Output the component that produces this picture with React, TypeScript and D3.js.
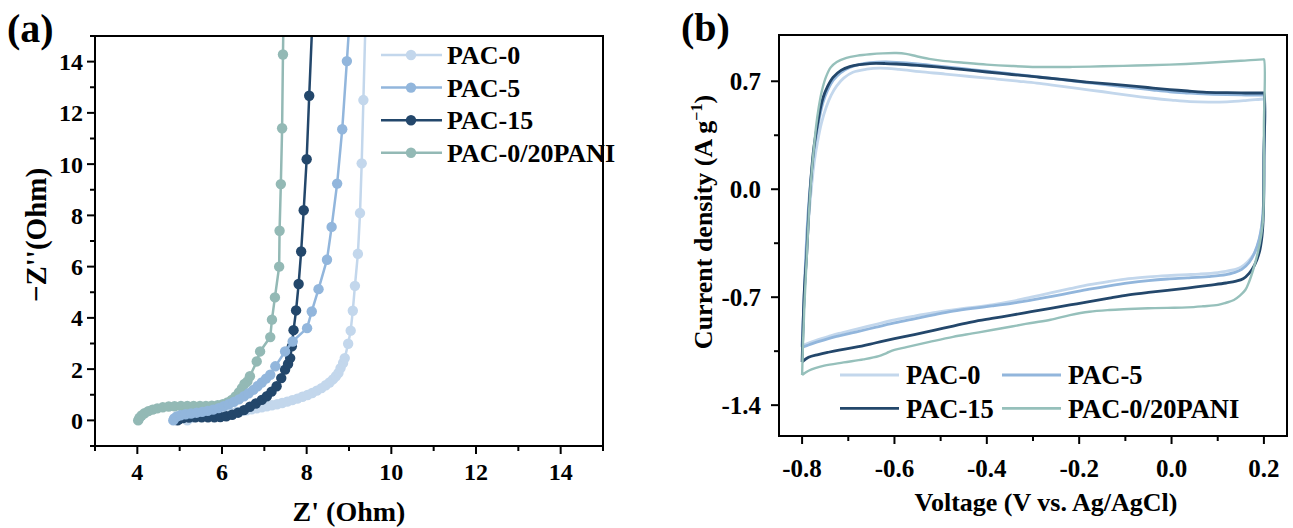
import React from "react";
import * as d3 from "d3";

// ---------- Panel (a): Nyquist plots, [Z', -Z''] in Ohm ----------
const nyqPAC0: [number, number][] = [
  [5.18, 0.0], [5.2, 0.05], [5.27, 0.1], [5.38, 0.13], [5.5, 0.15], [5.62, 0.17], [5.74, 0.19],
  [5.86, 0.21], [5.98, 0.24], [6.1, 0.27], [6.22, 0.3], [6.34, 0.33], [6.46, 0.36], [6.58, 0.39],
  [6.7, 0.43], [6.82, 0.47], [6.94, 0.51], [7.06, 0.55], [7.18, 0.59], [7.3, 0.63], [7.42, 0.68],
  [7.54, 0.73], [7.66, 0.79], [7.78, 0.85], [7.9, 0.92], [8.02, 0.99], [8.13, 1.07], [8.24, 1.16],
  [8.35, 1.26], [8.45, 1.37], [8.54, 1.48], [8.62, 1.6], [8.69, 1.72], [8.75, 1.85], [8.8, 2.04],
  [8.86, 2.24], [8.9, 2.43], [8.98, 2.99], [9.04, 3.5], [9.09, 4.28], [9.14, 5.25], [9.21, 6.5],
  [9.26, 8.09], [9.3, 10.03], [9.34, 12.5], [9.39, 15.6],
];
const nyqPAC5: [number, number][] = [
  [4.85, 0.0], [4.87, 0.08], [4.93, 0.15], [5.02, 0.2], [5.14, 0.24], [5.27, 0.27], [5.4, 0.3],
  [5.53, 0.33], [5.66, 0.37], [5.79, 0.42], [5.92, 0.48], [6.04, 0.55], [6.16, 0.63], [6.28, 0.72],
  [6.4, 0.82], [6.52, 0.94], [6.63, 1.06], [6.74, 1.19], [6.84, 1.33], [6.94, 1.48], [7.04, 1.63],
  [7.14, 1.78], [7.26, 2.11], [7.49, 2.69], [7.67, 3.08], [8.01, 3.6], [8.12, 4.25], [8.28, 5.12],
  [8.48, 6.27], [8.59, 7.55], [8.72, 9.24], [8.84, 11.36], [8.95, 14.02], [9.02, 15.8],
];
const nyqPAC15: [number, number][] = [
  [4.95, 0.0], [4.99, 0.05], [5.08, 0.09], [5.22, 0.11], [5.37, 0.12], [5.52, 0.12], [5.67, 0.12],
  [5.82, 0.12], [5.96, 0.13], [6.1, 0.16], [6.24, 0.22], [6.38, 0.3], [6.52, 0.4], [6.66, 0.53],
  [6.8, 0.66], [6.94, 0.8], [7.06, 0.94], [7.17, 1.12], [7.29, 1.33], [7.4, 1.65], [7.49, 1.98],
  [7.56, 2.2], [7.61, 2.43], [7.65, 2.89], [7.69, 3.52], [7.75, 4.29], [7.81, 5.32], [7.87, 6.59],
  [7.93, 8.2], [8.0, 10.19], [8.06, 12.67], [8.14, 15.8],
];
const nyqPANI: [number, number][] = [
  [4.02, 0.0], [4.05, 0.1], [4.1, 0.19], [4.17, 0.28], [4.26, 0.36], [4.36, 0.42], [4.47, 0.47],
  [4.6, 0.51], [4.74, 0.54], [4.88, 0.55], [5.03, 0.56], [5.18, 0.56], [5.33, 0.56], [5.48, 0.56],
  [5.62, 0.56], [5.76, 0.57], [5.9, 0.59], [6.02, 0.63], [6.13, 0.7], [6.23, 0.8], [6.32, 0.93],
  [6.4, 1.09], [6.47, 1.26], [6.53, 1.42], [6.6, 1.52], [6.66, 1.72], [6.82, 2.3], [6.9, 2.69],
  [7.14, 3.25], [7.18, 3.93], [7.25, 4.8], [7.35, 6.0], [7.36, 7.4], [7.39, 9.22], [7.42, 11.4],
  [7.44, 14.28], [7.46, 16.5],
];

// ---------- Panel (b): CV loops, [V vs. Ag/AgCl, A g^-1] ----------
const cvPAC0: [number, number][] = [
  [-0.8, -1.013], [-0.797, -0.8], [-0.792, -0.5], [-0.786, -0.2], [-0.78, 0.0], [-0.774, 0.17],
  [-0.767, 0.3], [-0.758, 0.43], [-0.748, 0.53], [-0.737, 0.61], [-0.725, 0.67], [-0.71, 0.72],
  [-0.69, 0.758], [-0.66, 0.778], [-0.632, 0.785], [-0.59, 0.777], [-0.545, 0.762], [-0.49, 0.747],
  [-0.437, 0.731], [-0.38, 0.715], [-0.33, 0.7], [-0.292, 0.688], [-0.25, 0.672], [-0.2, 0.652],
  [-0.148, 0.632], [-0.1, 0.612], [-0.04, 0.59], [0.0, 0.578], [0.04, 0.568], [0.08, 0.565],
  [0.12, 0.567], [0.16, 0.575], [0.198, 0.585], [0.2, 0.585], [0.2, 0.2], [0.199, -0.1],
  [0.196, -0.22], [0.19, -0.33], [0.18, -0.41], [0.165, -0.47], [0.15, -0.505], [0.13, -0.525],
  [0.1, -0.54], [0.06, -0.55], [0.034, -0.554], [-0.009, -0.56], [-0.05, -0.568], [-0.093, -0.58],
  [-0.135, -0.598], [-0.178, -0.619], [-0.22, -0.645], [-0.262, -0.672], [-0.304, -0.7],
  [-0.346, -0.727], [-0.389, -0.75], [-0.431, -0.766], [-0.473, -0.782], [-0.515, -0.8],
  [-0.557, -0.822], [-0.6, -0.847], [-0.642, -0.877], [-0.684, -0.908], [-0.72, -0.935],
  [-0.743, -0.955], [-0.765, -0.975], [-0.786, -0.998], [-0.8, -1.013],
];
const cvPAC5: [number, number][] = [
  [-0.8, -1.024], [-0.797, -0.8], [-0.793, -0.5], [-0.788, -0.2], [-0.783, 0.0], [-0.778, 0.15],
  [-0.772, 0.3], [-0.764, 0.44], [-0.755, 0.56], [-0.745, 0.64], [-0.733, 0.705], [-0.717, 0.755],
  [-0.697, 0.79], [-0.675, 0.81], [-0.653, 0.82], [-0.62, 0.825], [-0.596, 0.823], [-0.55, 0.813],
  [-0.509, 0.8], [-0.455, 0.783], [-0.4, 0.765], [-0.346, 0.748], [-0.292, 0.73], [-0.238, 0.711],
  [-0.184, 0.692], [-0.13, 0.673], [-0.076, 0.655], [-0.04, 0.643], [-0.004, 0.632], [0.035, 0.624],
  [0.069, 0.618], [0.12, 0.613], [0.16, 0.611], [0.198, 0.61], [0.2, 0.61], [0.2, 0.2],
  [0.199, -0.1], [0.196, -0.22], [0.19, -0.32], [0.18, -0.41], [0.168, -0.475], [0.152, -0.52],
  [0.135, -0.541], [0.118, -0.554], [0.08, -0.566], [0.034, -0.575], [-0.009, -0.582],
  [-0.05, -0.592], [-0.093, -0.607], [-0.135, -0.626], [-0.178, -0.648], [-0.22, -0.672],
  [-0.262, -0.696], [-0.304, -0.719], [-0.346, -0.74], [-0.389, -0.757], [-0.431, -0.772],
  [-0.473, -0.79], [-0.515, -0.814], [-0.557, -0.84], [-0.6, -0.867], [-0.642, -0.896],
  [-0.684, -0.926], [-0.72, -0.951], [-0.743, -0.968], [-0.765, -0.988], [-0.786, -1.01],
  [-0.8, -1.024],
];
const cvPAC15: [number, number][] = [
  [-0.8, -1.12], [-0.798, -0.9], [-0.795, -0.65], [-0.79, -0.417], [-0.785, -0.12], [-0.78, 0.1],
  [-0.775, 0.26], [-0.769, 0.38], [-0.762, 0.5], [-0.755, 0.59], [-0.745, 0.665], [-0.733, 0.725],
  [-0.715, 0.772], [-0.697, 0.795], [-0.675, 0.808], [-0.653, 0.815], [-0.62, 0.815], [-0.596, 0.812],
  [-0.55, 0.803], [-0.509, 0.793], [-0.455, 0.777], [-0.4, 0.76], [-0.346, 0.744], [-0.292, 0.728],
  [-0.238, 0.712], [-0.184, 0.695], [-0.13, 0.681], [-0.076, 0.667], [-0.04, 0.656], [-0.004, 0.646],
  [0.035, 0.637], [0.069, 0.63], [0.12, 0.626], [0.16, 0.624], [0.198, 0.624], [0.2, 0.624],
  [0.2, 0.2], [0.199, -0.15], [0.196, -0.3], [0.19, -0.41], [0.18, -0.49], [0.168, -0.545],
  [0.155, -0.58], [0.14, -0.596], [0.118, -0.608], [0.08, -0.623], [0.034, -0.641], [-0.009, -0.656],
  [-0.05, -0.669], [-0.093, -0.685], [-0.135, -0.706], [-0.178, -0.729], [-0.22, -0.75],
  [-0.262, -0.772], [-0.304, -0.794], [-0.346, -0.816], [-0.389, -0.838], [-0.431, -0.86],
  [-0.473, -0.887], [-0.515, -0.915], [-0.557, -0.942], [-0.6, -0.969], [-0.642, -0.997],
  [-0.684, -1.024], [-0.72, -1.043], [-0.743, -1.057], [-0.765, -1.072], [-0.786, -1.09],
  [-0.8, -1.12],
];
const cvPANI: [number, number][] = [
  [-0.8, -1.204], [-0.798, -1.0], [-0.795, -0.75], [-0.79, -0.45], [-0.785, -0.15], [-0.78, 0.08],
  [-0.775, 0.25], [-0.77, 0.4], [-0.764, 0.53], [-0.757, 0.64], [-0.748, 0.73], [-0.738, 0.79],
  [-0.725, 0.825], [-0.704, 0.852], [-0.68, 0.866], [-0.653, 0.875], [-0.625, 0.881], [-0.596, 0.883],
  [-0.575, 0.878], [-0.552, 0.862], [-0.525, 0.845], [-0.495, 0.832], [-0.45, 0.82], [-0.4, 0.808],
  [-0.346, 0.799], [-0.292, 0.793], [-0.22, 0.793], [-0.148, 0.797], [-0.076, 0.802], [-0.004, 0.808],
  [0.05, 0.815], [0.105, 0.825], [0.15, 0.833], [0.198, 0.842], [0.2, 0.842], [0.2, 0.4], [0.2, 0.0],
  [0.198, -0.2], [0.194, -0.3], [0.186, -0.42], [0.177, -0.52], [0.168, -0.6], [0.16, -0.652],
  [0.148, -0.69], [0.135, -0.718], [0.118, -0.736], [0.101, -0.75], [0.068, -0.759], [0.034, -0.766],
  [-0.009, -0.769], [-0.051, -0.772], [-0.093, -0.777], [-0.135, -0.783], [-0.178, -0.794],
  [-0.22, -0.816], [-0.262, -0.846], [-0.304, -0.867], [-0.346, -0.89], [-0.389, -0.913],
  [-0.431, -0.935], [-0.473, -0.957], [-0.524, -0.99], [-0.574, -1.024], [-0.6, -1.042],
  [-0.617, -1.062], [-0.634, -1.082], [-0.667, -1.103], [-0.71, -1.123], [-0.752, -1.144],
  [-0.786, -1.177], [-0.8, -1.204],
];

// ---------- Series names, colours and ticks ----------
const seriesNames = ["PAC-0", "PAC-5", "PAC-15", "PAC-0/20PANI"];
const seriesColors = ["#c3d7ec", "#92b6dc", "#23476b", "#93b9b5"];
const cvColors = ["#c3d7ec", "#92b6dc", "#23476b", "#96c0bb"];

const aXTicks = [4, 6, 8, 10, 12, 14];
const aXMinor = [3, 5, 7, 9, 11, 13, 15];
const aYTicks = [0, 2, 4, 6, 8, 10, 12, 14];
const aYMinor = [-1, 1, 3, 5, 7, 9, 11, 13, 15];
const bXTicks = [-0.8, -0.6, -0.4, -0.2, 0.0, 0.2];
const bXMinor = [-0.7, -0.5, -0.3, -0.1, 0.1];
const bYTicks = [-1.4, -0.7, 0.0, 0.7];
const bYMinor = [-1.05, -0.35, 0.35];

const FONT = "'Liberation Serif', 'Times New Roman', serif";

const xA = d3.scaleLinear().domain([3, 15]).range([95, 603]);
const yA = d3.scaleLinear().domain([-1, 15]).range([446, 36]);
const xB = d3.scaleLinear().domain([-0.85, 0.25]).range([779, 1287]);
const yB = d3.scaleLinear().domain([-1.6, 1.0]).range([436, 35]);

const fmtB = (v: number) => d3.format(".1f")(v).replace("\u2212", "-");

function Frame({ x, y }: { x: d3.ScaleLinear<number, number>; y: d3.ScaleLinear<number, number> }) {
  const [x0, x1] = x.range();
  const [y0, y1] = y.range();
  return (
    <rect x={x0} y={y1} width={x1 - x0} height={y0 - y1} fill="none" stroke="#000" strokeWidth={2} />
  );
}

function Axes({
  x, y, xt, xm, yt, ym, fx, fy, fontSize, xLabelY, yLabelX,
}: {
  x: d3.ScaleLinear<number, number>; y: d3.ScaleLinear<number, number>;
  xt: number[]; xm: number[]; yt: number[]; ym: number[];
  fx: (v: number) => string; fy: (v: number) => string;
  fontSize: number; xLabelY: number; yLabelX: number;
}) {
  const left = x.range()[0];
  const bottom = y.range()[0];
  return (
    <g fontFamily={FONT} fontWeight="bold" fontSize={fontSize} fill="#000">
      {xt.map((v) => (
        <g key={"xt" + v}>
          <line x1={x(v)} x2={x(v)} y1={bottom} y2={bottom + 8} stroke="#000" strokeWidth={2} />
          <text x={x(v)} y={xLabelY} textAnchor="middle">{fx(v)}</text>
        </g>
      ))}
      {xm.map((v) => (
        <line key={"xm" + v} x1={x(v)} x2={x(v)} y1={bottom} y2={bottom + 5} stroke="#000" strokeWidth={2} />
      ))}
      {yt.map((v) => (
        <g key={"yt" + v}>
          <line x1={left - 8} x2={left} y1={y(v)} y2={y(v)} stroke="#000" strokeWidth={2} />
          <text x={yLabelX} y={y(v)} dy="0.35em" textAnchor="end">{fy(v)}</text>
        </g>
      ))}
      {ym.map((v) => (
        <line key={"ym" + v} x1={left - 5} x2={left} y1={y(v)} y2={y(v)} stroke="#000" strokeWidth={2} />
      ))}
    </g>
  );
}

export default function App() {
  const nyqSeries = [nyqPAC0, nyqPAC5, nyqPAC15, nyqPANI];
  const cvSeries = [cvPAC0, cvPAC5, cvPAC15, cvPANI];
  // drawing order for the Nyquist markers (bottom to top)
  const nyqOrder = [3, 0, 2, 1];

  const lineA = d3.line<[number, number]>().x((d) => xA(d[0])).y((d) => yA(d[1]));
  const lineB = d3
    .line<[number, number]>()
    .x((d) => xB(d[0]))
    .y((d) => yB(d[1]))
    .curve(d3.curveCatmullRom.alpha(0.5));

  const [ax0, ax1] = xA.range();
  const [ay0, ay1] = yA.range();
  const [bx0, bx1] = xB.range();
  const [by0, by1] = yB.range();

  return (
    <svg
      width={1293}
      height={528}
      viewBox="0 0 1293 528"
      style={{ position: "fixed", left: 0, top: 0, background: "#fff" }}
    >
      <rect x={0} y={0} width={1293} height={528} fill="#fff" />
      <defs>
        <clipPath id="clipA">
          <rect x={ax0} y={ay1} width={ax1 - ax0} height={ay0 - ay1} />
        </clipPath>
        <clipPath id="clipB">
          <rect x={bx0} y={by1} width={bx1 - bx0} height={by0 - by1} />
        </clipPath>
      </defs>

      {/* ---------- Panel (a) ---------- */}
      <text x={7} y={42} fontFamily={FONT} fontWeight="bold" fontSize={40}>(a)</text>
      <g clipPath="url(#clipA)">
        {nyqOrder.map((i) => (
          <g key={"nyq" + i}>
            <path d={lineA(nyqSeries[i]) || ""} fill="none" stroke={seriesColors[i]} strokeWidth={2.5} />
            {nyqSeries[i].map((d, j) => (
              <circle key={j} cx={xA(d[0])} cy={yA(d[1])} r={5.2} fill={seriesColors[i]} />
            ))}
          </g>
        ))}
      </g>
      <Frame x={xA} y={yA} />
      <Axes
        x={xA} y={yA} xt={aXTicks} xm={aXMinor} yt={aYTicks} ym={aYMinor}
        fx={(v) => String(v)} fy={(v) => String(v)} fontSize={24} xLabelY={480} yLabelX={83}
      />
      <text x={(ax0 + ax1) / 2} y={521} textAnchor="middle" fontFamily={FONT} fontWeight="bold" fontSize={28}>
        Z' (Ohm)
      </text>
      <text
        transform={`translate(46, ${(ay0 + ay1) / 2 - 6}) rotate(-90)`}
        textAnchor="middle" fontFamily={FONT} fontWeight="bold" fontSize={29}
      >
        {"\u2212Z''(Ohm)"}
      </text>
      {/* legend (a) */}
      <g fontFamily={FONT} fontWeight="bold" fontSize={26}>
        {seriesNames.map((name, i) => {
          const ly = 55 + i * 32.6;
          return (
            <g key={"legA" + i}>
              <line x1={381} x2={442} y1={ly} y2={ly} stroke={seriesColors[i]} strokeWidth={2.5} />
              <circle cx={411} cy={ly} r={5.2} fill={seriesColors[i]} />
              <text x={447} y={ly} dy="0.35em">{name}</text>
            </g>
          );
        })}
      </g>

      {/* ---------- Panel (b) ---------- */}
      <text x={681} y={41} fontFamily={FONT} fontWeight="bold" fontSize={40}>(b)</text>
      <g clipPath="url(#clipB)">
        {cvSeries.map((s, i) => (
          <path key={"cv" + i} d={lineB(s) || ""} fill="none" stroke={cvColors[i]} strokeWidth={i === 3 ? 2.4 : 2.8} strokeLinejoin="round" />
        ))}
      </g>
      <Frame x={xB} y={yB} />
      <Axes
        x={xB} y={yB} xt={bXTicks} xm={bXMinor} yt={bYTicks} ym={bYMinor}
        fx={fmtB} fy={fmtB} fontSize={25} xLabelY={477} yLabelX={761}
      />
      <text x={1046} y={511} textAnchor="middle" fontFamily={FONT} fontWeight="bold" fontSize={26}>
        Voltage (V vs. Ag/AgCl)
      </text>
      <text
        transform={`translate(712, 222) rotate(-90)`}
        textAnchor="middle" fontFamily={FONT} fontWeight="bold" fontSize={26}
      >
        Current density (A g
        <tspan fontSize={16} dy={-10}>{"\u22121"}</tspan>
        <tspan dy={10}>)</tspan>
      </text>
      {/* legend (b) */}
      <g fontFamily={FONT} fontWeight="bold" fontSize={26.5}>
        {seriesNames.map((name, i) => {
          const col = i % 2;
          const row = Math.floor(i / 2);
          const lx = col === 0 ? 840 : 1002;
          const ly = 375 + row * 33.3;
          return (
            <g key={"legB" + i}>
              <line x1={lx} x2={lx + 59} y1={ly} y2={ly} stroke={cvColors[i]} strokeWidth={2.8} />
              <text x={lx + 66} y={ly} dy="0.35em">{name}</text>
            </g>
          );
        })}
      </g>
    </svg>
  );
}
